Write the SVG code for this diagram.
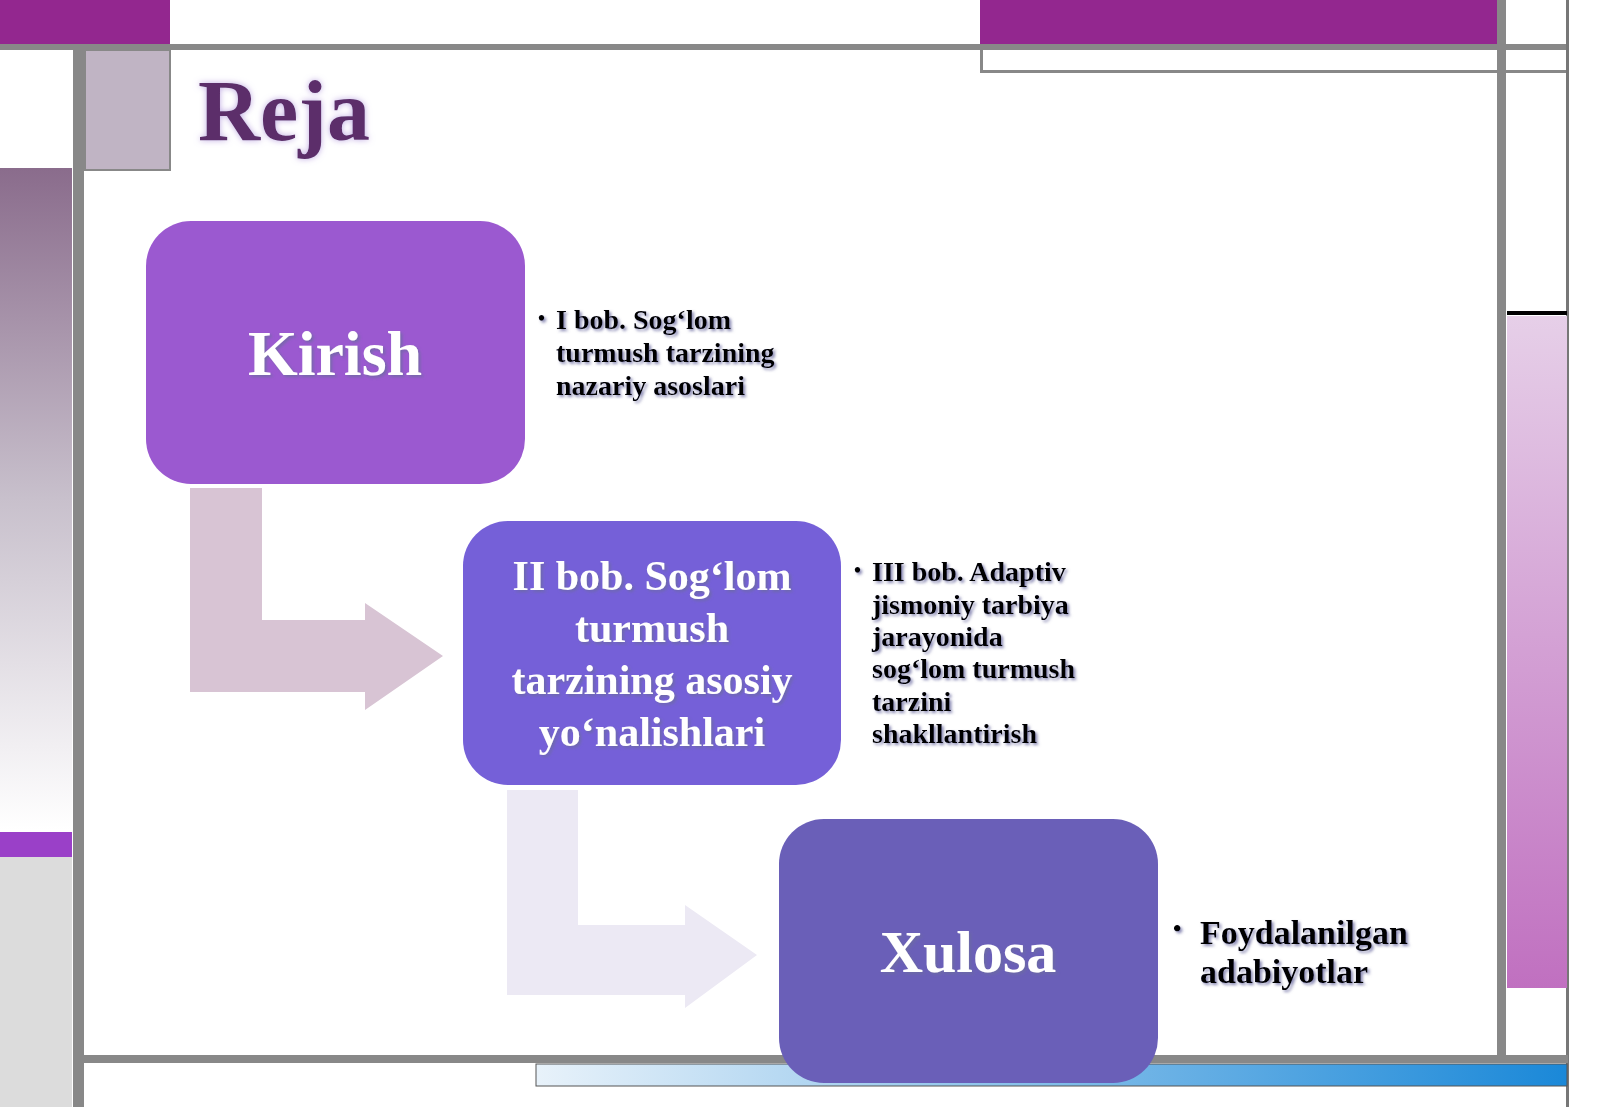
<svg xmlns="http://www.w3.org/2000/svg" width="1600" height="1107" viewBox="0 0 1600 1107">
<defs>
<linearGradient id="lg" x1="0" y1="0" x2="0" y2="1"><stop offset="0" stop-color="#8a6c8c"/><stop offset="0.5" stop-color="#c8c0cc"/><stop offset="1" stop-color="#ffffff"/></linearGradient>
<linearGradient id="rg" x1="0" y1="0" x2="0" y2="1"><stop offset="0" stop-color="#e6cfe8"/><stop offset="1" stop-color="#c070c0"/></linearGradient>
<linearGradient id="bg" x1="0" y1="0" x2="1" y2="0"><stop offset="0" stop-color="#e8f2fa"/><stop offset="1" stop-color="#1a88d8"/></linearGradient>
<filter id="sh"><feDropShadow dx="2" dy="2" stdDeviation="1.5" flood-color="#6a6aa0" flood-opacity="0.8"/></filter>
<filter id="gl"><feDropShadow dx="0" dy="0" stdDeviation="3" flood-color="#b8a0e0" flood-opacity="0.9"/></filter>
<style>
.t{font-family:"Liberation Serif",serif;font-weight:bold}
.w{fill:#fff;text-anchor:middle}
.b{fill:#000;font-size:28px}
.g{fill:#888}
</style>
</defs>
<rect width="1600" height="1107" fill="#fff"/>
<g id="frame">
<rect x="0" y="0" width="170" height="45" fill="#93278f"/>
<rect x="980" y="0" width="517" height="44" fill="#93278f"/>
<rect x="0" y="44" width="1568" height="6" class="g"/>
<rect x="980" y="70" width="588" height="3" class="g"/>
<rect x="980" y="44" width="3" height="28" class="g"/>
<rect x="1566" y="0" width="3" height="1107" fill="#777"/>
<rect x="73" y="47" width="11" height="1060" class="g"/>
<rect x="1497" y="0" width="9" height="1060" class="g"/>
<rect x="85" y="50" width="85" height="120" fill="#c0b4c4" stroke="#888" stroke-width="2"/>
<rect x="0" y="168" width="72" height="662" fill="url(#lg)"/>
<rect x="0" y="832" width="72" height="25" fill="#9a40c8"/>
<rect x="0" y="857" width="72" height="250" fill="#dcdcdc"/>
<rect x="1507" y="311" width="60" height="4" fill="#000"/>
<rect x="1507" y="316" width="60" height="672" fill="url(#rg)"/>
<rect x="84" y="1055" width="1484" height="8" class="g"/>
<rect x="536" y="1064" width="1031" height="22" fill="url(#bg)" stroke="#555" stroke-width="1"/>
</g>
<text class="t" x="198" y="140" font-size="86" fill="#5c2d6a" filter="url(#gl)">Reja</text>
<g id="connectors">
<path d="M190 488H262V620H365V603L443 656L365 710V692H190Z" fill="#d8c4d4"/>
<path d="M507 790H578V925H685V905L757 955L685 1008V995H507Z" fill="#ece9f4"/>
</g>
<g id="n1">
<rect x="146" y="221" width="379" height="263" rx="45" fill="#9b59d0"/>
<text class="t w" x="335" y="375" font-size="64" filter="url(#sh)">Kirish</text>
</g>
<g id="n2">
<rect x="463" y="521" width="378" height="264" rx="45" fill="#7560d8"/>
<text class="t w" font-size="42" filter="url(#sh)"><tspan x="652" y="590">II bob. Sog‘lom</tspan><tspan x="652" y="642">turmush</tspan><tspan x="652" y="694">tarzining asosiy</tspan><tspan x="652" y="746">yo‘nalishlari</tspan></text>
</g>
<g id="n3">
<rect x="779" y="819" width="379" height="264" rx="45" fill="#6a5fb8"/>
<text class="t w" x="968" y="972" font-size="60" filter="url(#sh)">Xulosa</text>
</g>
<g id="l1">
<text class="t b" filter="url(#sh)"><tspan x="538" y="325" font-size="20">•</tspan><tspan x="556" y="329">I bob. Sog‘lom</tspan><tspan x="556" y="362">turmush tarzining</tspan><tspan x="556" y="395">nazariy asoslari</tspan></text>
</g>
<g id="l2">
<text class="t b" filter="url(#sh)"><tspan x="854" y="577" font-size="20">•</tspan><tspan x="872" y="581">III bob. Adaptiv</tspan><tspan x="872" y="614">jismoniy tarbiya</tspan><tspan x="872" y="646">jarayonida</tspan><tspan x="872" y="678">sog‘lom turmush</tspan><tspan x="872" y="711">tarzini</tspan><tspan x="872" y="743">shakllantirish</tspan></text>
</g>
<g id="l3">
<text class="t b" font-size="34" filter="url(#sh)"><tspan x="1173" y="936" font-size="24">•</tspan><tspan x="1200" y="944" font-size="34">Foydalanilgan</tspan><tspan x="1200" y="983" font-size="34">adabiyotlar</tspan></text>
</g>
</svg>
